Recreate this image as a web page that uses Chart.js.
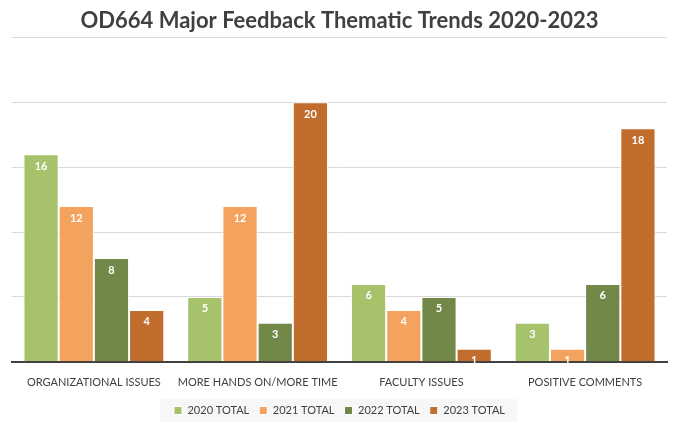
<!DOCTYPE html>
<html>
<head>
<meta charset="utf-8">
<script src="https://cdn.jsdelivr.net/npm/chart.js@4.4.1/dist/chart.umd.min.js"></script>
<style>
  html, body { margin: 0; padding: 0; background: #fff; }
  #wrap { width: 676px; height: 430px; }
</style>
</head>
<body>
<div id="wrap"><canvas id="feedbackChart"></canvas></div>
<script>
const categories = ['ORGANIZATIONAL ISSUES', 'MORE HANDS ON/MORE TIME', 'FACULTY ISSUES', 'POSITIVE COMMENTS'];
const total2020 = [16, 5, 6, 3];
const total2021 = [12, 12, 4, 1];
const total2022 = [8, 3, 5, 6];
const total2023 = [4, 20, 1, 18];

// labels drawn inside the bar tops, white
const barLabels = {
    id: 'barLabels',
    afterDatasetsDraw(chart) {
        const ctx = chart.ctx;
        ctx.save();
        ctx.fillStyle = '#ffffff';
        ctx.font = 'bold 11px Lato, "Open Sans", sans-serif';
        ctx.textAlign = 'center';
        ctx.textBaseline = 'middle';
        chart.data.datasets.forEach((ds, i) => {
            chart.getDatasetMeta(i).data.forEach((bar, j) => {
                ctx.fillText(ds.data[j], bar.x, bar.y + 12);
            });
        });
        ctx.restore();
    }
};

// faint box behind the legend
const legendBox = {
    id: 'legendBox',
    beforeDraw(chart) {
        const lg = chart.legend;
        if (!lg || !lg.legendHitBoxes.length) return;
        const first = lg.legendHitBoxes[0];
        const last = lg.legendHitBoxes[lg.legendHitBoxes.length - 1];
        const ctx = chart.ctx;
        ctx.save();
        ctx.fillStyle = '#f7f7f7';
        ctx.fillRect(first.left - 14, first.top - 6, last.left + last.width - first.left + 26, first.height + 12);
        ctx.restore();
    }
};

const ctx = document.getElementById('feedbackChart').getContext('2d');
new Chart(ctx, {
    type: 'bar',
    data: {
        labels: categories,
        datasets: [
            { label: '2020 TOTAL', data: total2020, backgroundColor: '#a6c26a' },
            { label: '2021 TOTAL', data: total2021, backgroundColor: '#f4a35e' },
            { label: '2022 TOTAL', data: total2022, backgroundColor: '#728848' },
            { label: '2023 TOTAL', data: total2023, backgroundColor: '#c06d2d' }
        ].map(d => Object.assign(d, { borderColor: '#ffffff', borderWidth: 1, categoryPercentage: 0.86, barPercentage: 1 }))
    },
    options: {
        responsive: true,
        maintainAspectRatio: false,
        animation: false,
        layout: { padding: { left: 12, right: 9, bottom: 4 } },
        plugins: {
            title: {
                display: true,
                text: 'OD664 Major Feedback Thematic Trends 2020-2023',
                color: '#404040',
                font: { family: 'Lato, "Open Sans", sans-serif', size: 22, weight: 'bold' },
                padding: { top: 8, bottom: 3 }
            },
            legend: {
                position: 'bottom',
                labels: {
                    color: '#404040',
                    boxWidth: 8,
                    boxHeight: 8,
                    font: { family: 'Lato, "Open Sans", sans-serif', size: 11 }
                }
            },
            tooltip: { enabled: false }
        },
        scales: {
            x: {
                grid: { display: false },
                border: { color: '#404040', width: 2 },
                ticks: {
                    color: '#404040',
                    font: { family: 'Lato, "Open Sans", sans-serif', size: 11 },
                    padding: 6,
                    maxRotation: 0,
                    minRotation: 0,
                    autoSkip: false
                }
            },
            y: {
                min: 0,
                max: 25,
                ticks: { display: false, stepSize: 5 },
                grid: { color: '#d9d9d9', drawTicks: false },
                border: { display: false }
            }
        }
    },
    plugins: [barLabels, legendBox]
});
</script>
</body>
</html>
